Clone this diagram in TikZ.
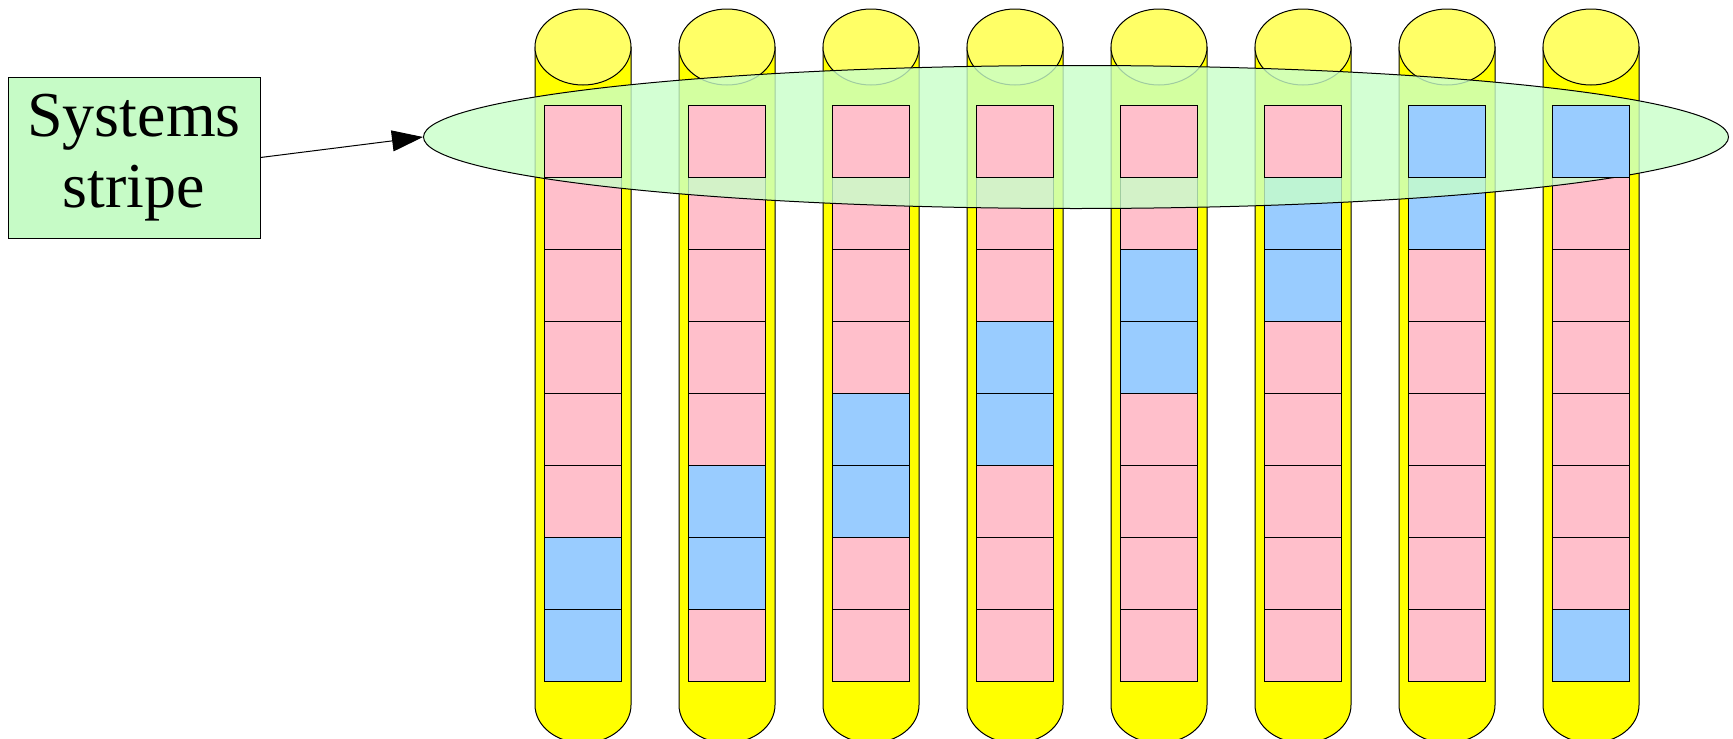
\documentclass[tikz,border=0pt]{standalone}
\usepackage{fontspec}
\setmainfont{Liberation Serif}
\usetikzlibrary{shapes.geometric,arrows.meta}
\definecolor{cylbody}{HTML}{FFFF00}
\definecolor{cyltop}{HTML}{FFFF66}
\definecolor{sqpink}{HTML}{FFBFCB}
\definecolor{sqblue}{HTML}{99CCFF}
\definecolor{boxgreen}{HTML}{C6FBC6}
\definecolor{ellgreen}{HTML}{C8FFC8}
\tikzset{
  cell/.style={draw=black, line width=1pt, minimum width=77pt, minimum height=72pt, inner sep=0pt, outer sep=0pt},
  pinkcell/.style={cell, fill=sqpink},
  bluecell/.style={cell, fill=sqblue},
  cylline/.style={draw=black, line width=1pt},
  labelbox/.style={draw=black, line width=1pt, fill=boxgreen, minimum width=252pt, minimum height=161pt, inner sep=0pt, align=center, font=\fontsize{64}{71}\selectfont},
  stripe/.style={ellipse, draw=black, line width=1pt, fill=ellgreen, fill opacity=0.8, minimum width=1305pt, minimum height=143pt, inner sep=0pt},
  pointer/.style={draw=black, line width=1pt, -{Triangle[length=31pt,width=21pt]}}
}
\begin{document}
\begin{tikzpicture}[x=1pt,y=1pt]
\useasboundingbox (0,0) rectangle (1733,-739);
\clip (0,0) rectangle (1733,-739);
% cylinders
\foreach \i in {0,...,7}{
  \pgfmathsetmacro{\cx}{583+144*\i}
  \path[cylline, fill=cylbody] (\cx-48,-47) -- (\cx-48,-705)
     arc[start angle=180, end angle=360, x radius=48pt, y radius=38pt]
     -- (\cx+48,-47) -- cycle;
  \path[cylline, fill=cyltop] (\cx,-47) ellipse[x radius=48pt, y radius=38pt];
}
% column patterns: rows 1..8 (p = pink, b = blue)
\def\colA{p,p,p,p,p,p,b,b}
\def\colB{p,p,p,p,p,b,b,p}
\def\colC{p,p,p,p,b,b,p,p}
\def\colD{p,p,p,b,b,p,p,p}
\def\colE{p,p,b,b,p,p,p,p}
\def\colF{p,b,b,p,p,p,p,p}
\def\colG{b,b,p,p,p,p,p,p}
\def\colH{b,p,p,p,p,p,p,b}
\newcommand{\drawcol}[3]{% #1 col index, #2 pattern, #3 which rows: 1 = first only, 0 = rest
  \foreach \c [count=\r] in #2 {
    \pgfmathtruncatemacro{\isfirst}{\r==1 ? 1 : 0}
    \ifnum\isfirst=#3\relax
      \pgfmathsetmacro{\cx}{583+144*#1}
      \pgfmathsetmacro{\cy}{-141-72*(\r-1)}
      \if p\c
        \node[pinkcell] (s-#1-\r) at (\cx,\cy) {};
      \else
        \node[bluecell] (s-#1-\r) at (\cx,\cy) {};
      \fi
    \fi
  }
}
\drawcol{0}{\colA}{0}\drawcol{1}{\colB}{0}\drawcol{2}{\colC}{0}\drawcol{3}{\colD}{0}
\drawcol{4}{\colE}{0}\drawcol{5}{\colF}{0}\drawcol{6}{\colG}{0}\drawcol{7}{\colH}{0}
% systems stripe ellipse
\node[stripe] (ell) at (1076,-137) {};
\drawcol{0}{\colA}{1}\drawcol{1}{\colB}{1}\drawcol{2}{\colC}{1}\drawcol{3}{\colD}{1}
\drawcol{4}{\colE}{1}\drawcol{5}{\colF}{1}\drawcol{6}{\colG}{1}\drawcol{7}{\colH}{1}
% label
\node[labelbox] (lbl) at (134,-157.5) {Systems\\stripe};
\draw[pointer] (lbl.east) -- (ell.west);
\end{tikzpicture}
\end{document}
